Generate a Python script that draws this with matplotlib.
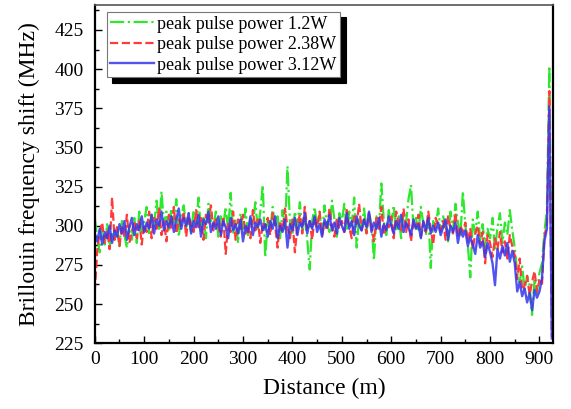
import numpy as np
import matplotlib
matplotlib.use("Agg")
import matplotlib.pyplot as plt
from matplotlib.ticker import MultipleLocator

plt.rcParams['font.family'] = ['Liberation Serif', 'DejaVu Serif']

# distance samples (m), one every 5 m
distance = np.arange(0, 926, 5)

labels = ["peak pulse power 1.2W", "peak pulse power 2.38W", "peak pulse power 3.12W"]

# Brillouin frequency shift (MHz), 10 samples (50 m) per row
bfs_12w = [
    305, 292, 283, 298, 288, 301, 286, 296, 291, 299,
    287, 303, 294, 286, 300, 291, 305, 289, 309, 296,
    303, 312, 294, 307, 300, 316, 298, 322, 301, 309,
    296, 311, 302, 317, 293, 306, 313, 299, 308, 295,
    310, 301, 318, 296, 305, 292, 314, 303, 299, 309,
    293, 306, 300, 312, 297, 321, 295, 304, 289, 308,
    298, 311, 294, 305, 301, 315, 297, 309, 326, 280,
    303, 296, 312, 299, 306, 292, 310, 298, 338, 302,
    294, 309, 300, 315, 297, 305, 291, 272, 303, 312,
    299, 307, 295, 313, 301, 296, 316, 304, 293, 308,
    302, 314, 297, 309, 300, 318, 286, 305, 298, 311,
    296, 308, 301, 278, 306, 299, 327, 303, 294, 310,
    300, 313, 297, 306, 292, 309, 302, 317, 326, 298,
    305, 296, 312, 301, 294, 308, 273, 303, 299, 311,
    296, 306, 300, 290, 309, 297, 314, 302, 293, 322,
    300, 288, 267, 304, 295, 309, 291, 301, 286, 298,
    292, 305, 284, 299, 308, 289, 302, 294, 310, 297,
    286, 270, 264, 274, 259, 268, 262, 243, 266, 257,
    270, 276, 296, 310, 402, 233,
]

bfs_238w = [
    258, 284, 296, 302, 289, 297, 285, 318, 291, 299,
    287, 300, 293, 307, 289, 296, 303, 292, 304, 288,
    301, 296, 309, 292, 305, 298, 311, 294, 303, 290,
    307, 298, 312, 295, 304, 300, 309, 293, 306, 301,
    296, 310, 299, 305, 291, 307, 302, 313, 297, 304,
    300, 293, 306, 282, 302, 296, 309, 291, 304, 298,
    307, 295, 301, 292, 310, 297, 304, 289, 302, 299,
    305, 294, 308, 300, 286, 303, 297, 311, 299, 292,
    304, 283, 300, 307, 295, 312, 298, 303, 291, 306,
    299, 309, 294, 302, 297, 311, 300, 293, 305, 298,
    303, 296, 310, 299, 292, 306, 301, 314, 297, 304,
    295, 308, 300, 290, 305, 298, 312, 294, 302, 299,
    306, 292, 309, 301, 297, 311, 296, 304, 290, 303,
    299, 307, 293, 302, 296, 309, 298, 288, 305, 300,
    297, 303, 291, 306, 299, 295, 308, 293, 300, 296,
    302, 290, 298, 285, 295, 300, 288, 296, 276, 294,
    289, 280, 292, 285, 296, 283, 290, 279, 294, 287,
    281, 266, 279, 259, 262, 268, 256, 264, 271, 258,
    265, 262, 293, 301, 386, 229,
]

bfs_312w = [
    295, 290, 298, 288, 296, 292, 300, 289, 297, 293,
    301, 295, 303, 291, 299, 305, 294, 301, 297, 306,
    296, 302, 298, 307, 295, 304, 300, 309, 297, 303,
    299, 306, 296, 304, 311, 298, 305, 300, 308, 295,
    303, 299, 307, 293, 304, 301, 309, 296, 302, 298,
    306, 294, 303, 299, 292, 305, 297, 301, 295, 304,
    290, 300, 296, 306, 294, 302, 299, 304, 297, 301,
    293, 303, 298, 306, 292, 300, 296, 304, 286, 301,
    297, 305, 294, 302, 299, 308, 295, 303, 298, 306,
    296, 301, 293, 304, 299, 307, 297, 302, 295, 305,
    300, 296, 308, 298, 303, 294, 306, 300, 297, 304,
    299, 309, 296, 302, 298, 305, 293, 301, 297, 306,
    300, 295, 303, 298, 307, 296, 302, 299, 294, 304,
    298, 301, 292, 303, 297, 305, 295, 300, 296, 302,
    294, 299, 304, 291, 300, 296, 302, 289, 298, 293,
    297, 287, 293, 288, 282, 294, 286, 290, 280, 289,
    283, 276, 262, 285, 279, 287, 281, 289, 277, 284,
    276, 258, 264, 255, 260, 251, 257, 246, 259, 254,
    258, 266, 290, 298, 376, 228,
]

fig = plt.figure(figsize=(5.71, 4.09), dpi=100)
ax = fig.add_axes([0.166, 0.161, 0.803, 0.827])

ax.plot(distance, bfs_12w, color='#2ee82e', ls='-.', lw=1.6, label=labels[0])
ax.plot(distance, bfs_238w, color='#ff3a3a', ls='--', lw=1.6, label=labels[1])
ax.plot(distance, bfs_312w, color='#3535f0', ls='-', lw=1.7, alpha=0.85, label=labels[2])

ax.set_xlim(0, 928)
ax.set_ylim(225, 441)
ax.xaxis.set_major_locator(MultipleLocator(100))
ax.xaxis.set_minor_locator(MultipleLocator(50))
ax.yaxis.set_major_locator(MultipleLocator(25))
ax.yaxis.set_minor_locator(MultipleLocator(12.5))
ax.tick_params(which='both', direction='in', labelsize=14, width=1)
ax.tick_params(which='major', length=5)
ax.tick_params(which='minor', length=3)
ax.tick_params(axis='y', pad=8)
ax.tick_params(axis='x', pad=6)

for s in ['left', 'bottom', 'right']:
    ax.spines[s].set_linewidth(1.6)
ax.spines['top'].set_color('#555555')
ax.spines['top'].set_linewidth(1.2)

ax.set_xlabel('Distance (m)', fontsize=17, labelpad=7)
ax.set_ylabel('Brillouin frequency shift (MHz)', fontsize=17, labelpad=10)

leg = ax.legend(loc='upper left', bbox_to_anchor=(0.018, 0.99), fontsize=13,
                handlelength=2.4, handletextpad=0.2, labelspacing=0.2,
                borderpad=0.2, borderaxespad=0.2, fancybox=False, framealpha=1,
                edgecolor='#777777',
                shadow={'color': 'black', 'alpha': 1, 'ox': 4, 'oy': -4})
leg.get_frame().set_linewidth(0.8)

fig.savefig('out.png', dpi=100)
